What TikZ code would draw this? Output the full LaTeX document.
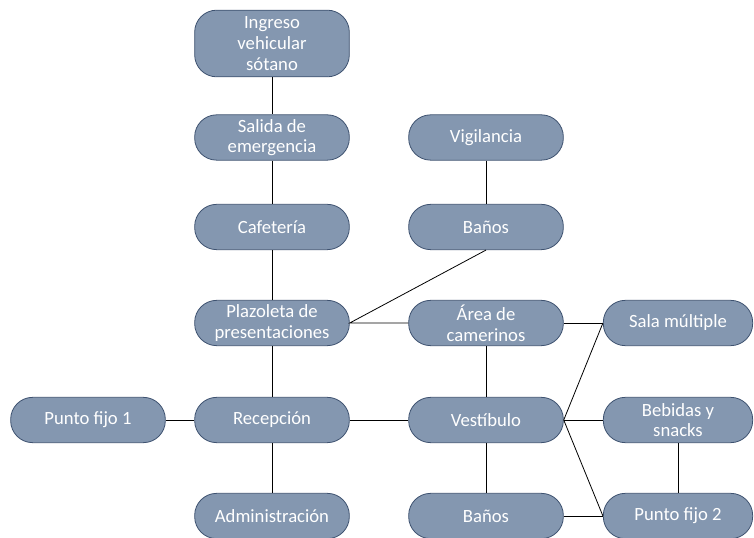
\documentclass[tikz,border=0pt]{standalone}
\usepackage{fontspec}
\setmainfont{Carlito}
\definecolor{relleno}{HTML}{8497B0}
\definecolor{borde}{HTML}{3E5270}

\begin{document}
\begin{tikzpicture}[x=0.75pt, y=-0.75pt, line width=0.6pt,
  espacio/.style={draw=borde, fill=relleno, rounded corners=16.5pt, minimum width=116pt,
    minimum height=34pt, align=center, text=white, inner sep=1pt,
    font=\fontsize{14}{15.5}\selectfont},
  ancho4/.style={minimum width=112pt}]
  \useasboundingbox (0,0) rectangle (754,538);
  % columna central izquierda
  \node[espacio, minimum height=50pt] (ingreso) at (272,43.5) {Ingreso\\vehicular\\sótano};
  \node[espacio] (salida) at (272,137.5) {Salida de\\emergencia};
  \node[espacio] (cafeteria) at (272,227) {Cafetería};
  \node[espacio] (plazoleta) at (272,323) {Plazoleta de\\presentaciones};
  \node[espacio] (recepcion) at (272,420) {Recepción};
  \node[espacio] (admin) at (272,516) {Administración};
  \node[espacio] (puntoA) at (88,420) {Punto fijo 1};
  % columna central derecha
  \node[espacio] (vigilancia) at (486,137.5) {Vigilancia};
  \node[espacio] (banosA) at (486,227) {Baños};
  \node[espacio] (camerinos) at (486,323) {Área de\\camerinos};
  \node[espacio] (vestibulo) at (486,420) {Vestíbulo};
  \node[espacio] (banosB) at (486,516) {Baños};
  % columna derecha
  \node[espacio, ancho4] (sala) at (678,323) {Sala múltiple};
  \node[espacio, ancho4] (bebidas) at (678,420) {Bebidas y\\snacks};
  \node[espacio, ancho4] (puntoB) at (678,516) {Punto fijo 2};
  % conexiones
  \draw (ingreso) -- (salida) -- (cafeteria) -- (plazoleta) -- (recepcion) -- (admin);
  \draw (puntoA) -- (recepcion) -- (vestibulo);
  \draw (vigilancia) -- (banosA);
  \draw (banosA.south) -- (plazoleta.east) -- (camerinos.west);
  \draw (camerinos) -- (vestibulo) -- (banosB);
  \draw (camerinos.east) -- (sala.west);
  \draw (vestibulo.east) -- (sala.west);
  \draw (vestibulo.east) -- (bebidas.west);
  \draw (vestibulo.east) -- (puntoB.west);
  \draw (banosB.east) -- (puntoB.west);
  \draw (bebidas) -- (puntoB);
\end{tikzpicture}
\end{document}
